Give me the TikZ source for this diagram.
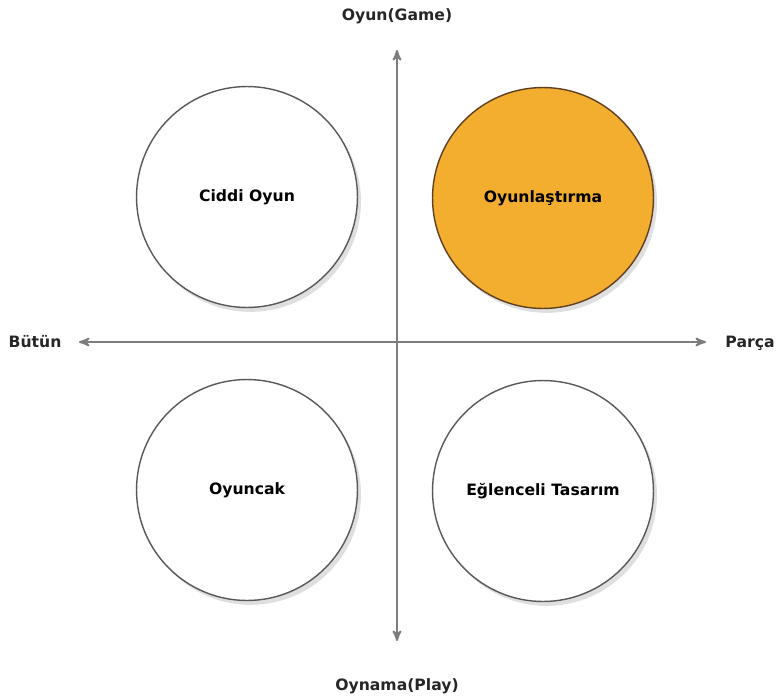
\documentclass[tikz,border=0pt]{standalone}
\usepackage{fontspec}
\setmainfont{DejaVu Sans}
\usepackage{tikz}
\usetikzlibrary{arrows}
\usetikzlibrary{shadows}
\definecolor{gamOrange}{RGB}{243,174,48}
\definecolor{axisGray}{RGB}{125,125,125}
\tikzstyle{diagram}=[x=0.02cm, y=-0.02cm, font=\fontsize{8.9}{11}\selectfont\bfseries]
\tikzstyle{quad}=[circle, draw=black!65, thick, fill=white, minimum size=4.42cm, inner sep=0pt, drop shadow={shadow xshift=2pt, shadow yshift=-2.5pt, opacity=0.25}]
\tikzstyle{gamified}=[quad, fill=gamOrange, draw=black!50!brown]
\tikzstyle{axis}=[<->, >=stealth', line width=1.1pt, draw=axisGray]
\tikzstyle{axisLabel}=[inner sep=1pt, text=black!85]

\begin{document}
\begin{tikzpicture}[diagram]
\useasboundingbox (0,0) rectangle (778,700);

% the four quadrants
\node[quad] (ciddi) at (247,197) {Ciddi Oyun};
\node[gamified] (oyunlastirma) at (543,198) {Oyunlaştırma};
\node[quad] (oyuncak) at (247,490) {Oyuncak};
\node[quad] (eglenceli) at (543,491) {Eğlenceli Tasarım};

% axes
\coordinate (top) at (397,50);
\coordinate (bottom) at (397,641);
\coordinate (left) at (79,342);
\coordinate (right) at (706,342);
\draw[axis] (bottom) -- (top);
\draw[axis] (left) -- (right);

\node[axisLabel] (game) at (397,16) {Oyun(Game)};
\node[axisLabel] (play) at (397,686) {Oynama(Play)};
\node[axisLabel] (butun) at (35,342) {Bütün};
\node[axisLabel] (parca) at (750,343) {Parça};
\end{tikzpicture}
\end{document}
